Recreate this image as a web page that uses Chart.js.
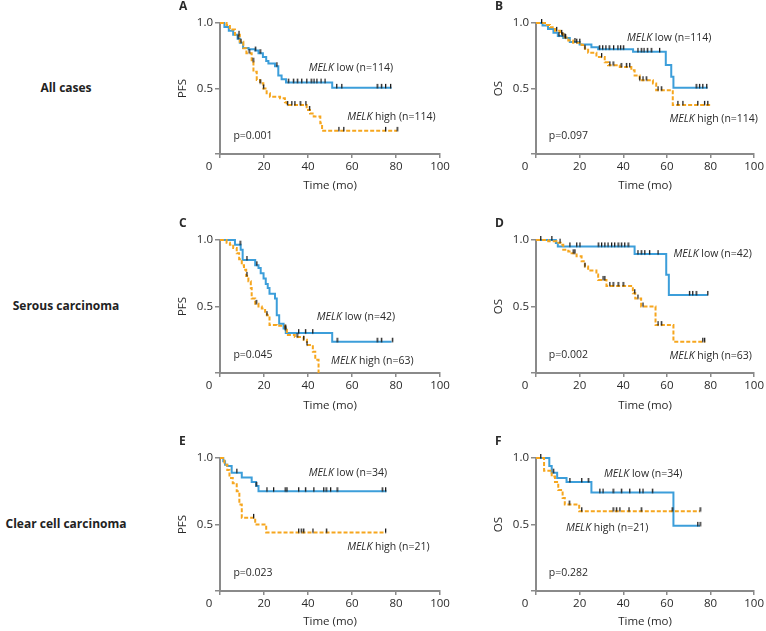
<!DOCTYPE html>
<html>
<head>
<meta charset="utf-8">
<script src="https://cdn.jsdelivr.net/npm/chart.js@4.4.1/dist/chart.umd.min.js"></script>
<style>
body { margin: 0; width: 766px; height: 631px; position: relative; background: #fff; overflow: hidden; }
canvas { position: absolute; }
.row { position: absolute; left: 0; width: 132px; text-align: center; font: bold 12px 'Open Sans', sans-serif; color: #222; line-height: 16px; }
</style>
</head>
<body>
<div class="row" style="top:80px">All cases</div>
<div class="row" style="top:298px">Serous carcinoma</div>
<div class="row" style="top:516px">Clear cell carcinoma</div>

<canvas id="pA" width="290" height="195" style="left:170px;top:0px"></canvas>
<canvas id="pB" width="280" height="195" style="left:486px;top:0px"></canvas>
<canvas id="pC" width="290" height="200" style="left:170px;top:215px"></canvas>
<canvas id="pD" width="280" height="200" style="left:486px;top:215px"></canvas>
<canvas id="pE" width="290" height="198" style="left:170px;top:433px"></canvas>
<canvas id="pF" width="280" height="198" style="left:486px;top:433px"></canvas>

<script>
// time axis ticks (months)
var xTicks = [0, 20, 40, 60, 80, 100]

// A - PFS, all cases
var aLowT = [0, 2, 4, 6, 8, 9, 10.5, 13, 16, 17.5, 19.5, 21, 22, 25, 26.5, 28, 30, 51, 78]
var aLowS = [1, 0.97, 0.94, 0.91, 0.88, 0.85, 0.81, 0.8, 0.79, 0.77, 0.74, 0.71, 0.69, 0.67, 0.6, 0.57, 0.545, 0.505, 0.505]
var aLowC = [8.2, 9.5, 16, 18.2, 25.8, 31, 33.3, 35.1, 37.1, 39.4, 41.4, 42.7, 44, 45.9, 47.7, 53, 55.3, 71.4, 73.3, 75.2, 77.5]
var aHighT = [0, 3, 4.5, 6.8, 9, 10.6, 12, 14.4, 15.2, 16.7, 18.2, 19.7, 21.2, 22.7, 27.3, 29.5, 30.3, 39.4, 40.9, 42.6, 45.6, 46.4, 80.5]
var aHighS = [1, 0.985, 0.95, 0.91, 0.857, 0.807, 0.77, 0.705, 0.628, 0.565, 0.54, 0.5, 0.463, 0.437, 0.425, 0.395, 0.374, 0.336, 0.31, 0.286, 0.235, 0.177, 0.177]
var aHighC = [8.6, 13.2, 15, 18.2, 19.7, 30.6, 32.6, 34, 36.4, 39, 40.6, 54, 56.2, 75.2, 80.5]

// B - OS, all cases
var bLowT = [0, 3, 5.5, 8, 10, 12.5, 15.5, 20, 25.4, 28.5, 44.5, 59.5, 62, 63, 78.7]
var bLowS = [1, 0.98, 0.955, 0.925, 0.9, 0.885, 0.855, 0.835, 0.815, 0.8, 0.78, 0.68, 0.59, 0.505, 0.505]
var bLowC = [10.5, 12, 13.5, 17.8, 29, 30.5, 32, 33.5, 35.5, 37.5, 38.7, 40, 46.7, 48.2, 49.5, 51, 52.8, 56.6, 73.4, 74.9, 76.4, 78.2]
var bHighT = [0, 4.6, 6.4, 8.7, 11, 12.5, 14.8, 17, 20.9, 22.4, 23.9, 27.7, 31.5, 33, 38.4, 43.7, 45.2, 47.5, 53.6, 55.1, 62.7, 80.5]
var bHighS = [1, 0.985, 0.967, 0.94, 0.917, 0.89, 0.866, 0.85, 0.833, 0.803, 0.773, 0.74, 0.7, 0.677, 0.665, 0.64, 0.6, 0.563, 0.538, 0.487, 0.375, 0.375]
var bHighC = [2.5, 9.4, 11.7, 13.2, 18.6, 20, 22.4, 30, 33.8, 35.3, 39, 41.4, 42.9, 47.5, 49, 50.5, 55.9, 57.4, 65, 67.3, 74.1, 77.2, 78.7]

// C - PFS, serous carcinoma
var cLowT = [0, 6.8, 9.4, 10.3, 16, 17.5, 18.5, 19.8, 20.8, 21.7, 22.5, 25, 25.8, 26.9, 28.9, 29.9, 51, 78]
var cLowS = [1, 0.965, 0.927, 0.85, 0.81, 0.79, 0.75, 0.71, 0.67, 0.64, 0.595, 0.56, 0.435, 0.37, 0.335, 0.3, 0.235, 0.235]
var cLowC = [9.1, 12.2, 16.7, 29.6, 35.7, 38.8, 42.1, 53.2, 71.4, 73.3, 78.3]
var cHighT = [0, 3, 4.5, 6, 7.6, 8.7, 9.9, 10.9, 11.9, 12.9, 14, 14.4, 16, 17.5, 19, 20.5, 21.3, 22.5, 25.8, 29.6, 30.4, 34, 38, 39.5, 42.2, 43.3, 44.8]
var cHighS = [1, 0.98, 0.965, 0.94, 0.9, 0.856, 0.81, 0.776, 0.73, 0.69, 0.64, 0.56, 0.52, 0.5, 0.485, 0.46, 0.435, 0.36, 0.355, 0.325, 0.285, 0.27, 0.25, 0.21, 0.16, 0.1, 0]
var cHighC = [12.2, 16.4, 21.3, 29.6, 35, 38, 39.5]

// D - OS, serous carcinoma
var dLowT = [0, 9.1, 10, 45.2, 59.7, 60.9, 78.7]
var dLowS = [1, 0.977, 0.952, 0.894, 0.738, 0.587, 0.587]
var dLowC = [2.1, 7.2, 15.5, 18.6, 20.1, 28.5, 30, 31.5, 33, 34.6, 36, 37.6, 39.1, 40.6, 42.2, 46.7, 48.2, 49.8, 52, 55.9, 70.3, 71.8, 73.4, 78.7]
var dHighT = [0, 5.6, 9.4, 11.3, 12.5, 14.8, 16.3, 18.6, 20.9, 22.4, 23.9, 27.7, 28.5, 32.3, 44.4, 45.5, 48.2, 54.8, 63, 77.6]
var dHighS = [1, 0.99, 0.98, 0.965, 0.927, 0.914, 0.9, 0.877, 0.84, 0.8, 0.77, 0.74, 0.7, 0.655, 0.6, 0.56, 0.5, 0.36, 0.235, 0.235]
var dHighC = [11, 17, 17.8, 22.4, 30.7, 31.5, 33.8, 35.3, 37.6, 39.9, 45.2, 46.7, 49, 55.9, 57.4, 76.4, 77.2]

// E - PFS, clear cell carcinoma
var eLowT = [0, 1.5, 2.3, 3.3, 5.3, 9.9, 14.4, 16.4, 17.5, 75.7]
var eLowS = [1, 0.975, 0.95, 0.94, 0.89, 0.854, 0.82, 0.79, 0.75, 0.75]
var eLowC = [7.6, 16.4, 21.3, 24.3, 29.6, 30.4, 35.7, 38.8, 42.6, 47.1, 48.2, 50.2, 53.2, 73.7, 75.2]
var eHighT = [0, 2, 3.3, 4.3, 5.8, 7.6, 8.8, 9.9, 16, 21, 75.2]
var eHighS = [1, 0.95, 0.91, 0.85, 0.81, 0.75, 0.65, 0.55, 0.5, 0.44, 0.44]
var eHighC = [15.2, 35.7, 36.9, 38, 42.2, 48.3, 75.2]

// F - OS, clear cell carcinoma
var fLowT = [0, 6.1, 7.2, 9.7, 14, 25.4, 63, 75.2]
var fLowS = [1, 0.94, 0.89, 0.85, 0.82, 0.74, 0.49, 0.49]
var fLowC = [2.1, 7.9, 15.5, 20.9, 23.9, 29.2, 30.7, 35.3, 39.1, 42.9, 47.5, 49, 53.3, 74.1, 75.2]
var fHighT = [0, 3.7, 7.2, 8.7, 10.2, 12.2, 13.2, 19.8, 75.2]
var fHighS = [1, 0.905, 0.86, 0.82, 0.76, 0.7, 0.65, 0.6, 0.6]
var fHighC = [15.2, 20.9, 35.3, 36.8, 38.4, 42.6, 48.2, 62.4, 75.2]

var blue = 'rgb(60,158,218)'
var orange = 'rgb(246,166,30)'
var font = "'Open Sans', sans-serif"

Chart.defaults.font.family = font
Chart.defaults.color = '#2a2a2a'

// censor mark: short black tick standing on top of the curve
var tick = document.createElement('canvas')
tick.width = 3
tick.height = 10
var tc = tick.getContext('2d')
tc.fillStyle = '#1a1a1a'
tc.fillRect(1, 1, 1.3, 4.5)

function steps(T, S) {
	return T.map(function (t, i) { return { x: t, y: S[i] } })
}

// censor ticks sit on the curve at the censoring time
function censors(T, S, C) {
	return C.map(function (c) {
		var s = S[0]
		for (var i = 0; i < T.length; i++) { if (T[i] <= c) s = S[i] }
		return { x: c, y: s }
	})
}

var notes = {
	id: 'notes',
	afterDraw: function (chart, args, opts) {
		var c = chart.ctx, a = chart.chartArea
		var xs = chart.scales.x, ys = chart.scales.y
		c.save()
		c.fillStyle = '#2a2a2a'
		c.textBaseline = 'middle'
		c.textAlign = 'left'
		c.font = 'bold 12px ' + font
		c.fillText(opts.letter, a.left - 41, a.top - 16)
		c.textAlign = 'center'
		c.font = '11.5px ' + font
		c.fillText('0', a.left - 11, a.bottom + 13)
		c.textAlign = 'left'
		opts.labels.forEach(function (l) {
			var x = xs.getPixelForValue(l.x), y = ys.getPixelForValue(l.y)
			if (l.gene) {
				c.font = 'italic 10.5px ' + font
				c.fillText(l.gene, x, y)
				x += c.measureText(l.gene + ' ').width
			}
			c.font = '10.5px ' + font
			c.fillText(l.text, x, y)
		})
		c.restore()
	}
}

function panel(id, p) {
	var ctx = document.getElementById(id).getContext('2d')
	new Chart(ctx, {
		type: 'line',
		data: {
			datasets: [{
				data: censors(p.lowT, p.lowS, p.lowC).concat(censors(p.highT, p.highS, p.highC)),
				showLine: false,
				pointStyle: tick,
				pointRadius: 3,
				clip: false
			}, {
				data: steps(p.highT, p.highS),
				borderColor: orange,
				borderWidth: 2,
				borderDash: [4, 2],
				stepped: 'before',
				pointRadius: 0,
				clip: false
			}, {
				data: steps(p.lowT, p.lowS),
				borderColor: blue,
				borderWidth: 2,
				stepped: 'before',
				pointRadius: 0,
				clip: false
			}]
		},
		options: {
			responsive: false,
			animation: false,
			events: [],
			layout: { padding: { top: p.top, right: p.right, left: 0, bottom: 0 } },
			plugins: {
				legend: { display: false },
				tooltip: { enabled: false },
				notes: { letter: p.letter, labels: p.labels }
			},
			scales: {
				x: {
					type: 'linear',
					min: 0,
					max: 100,
					afterFit: function (s) { s.height = p.xh },
					afterBuildTicks: function (s) { s.ticks = xTicks.map(function (v) { return { value: v } }) },
					ticks: {
						padding: 2,
						font: { size: 11.5 },
						callback: function (v) { return v === 0 ? '' : v }
					},
					grid: { drawOnChartArea: false, tickLength: 4, color: '#8a8a8a', lineWidth: 1.5 },
					border: { color: '#8a8a8a', width: 2 },
					title: { display: true, text: 'Time (mo)', font: { size: 11.5 }, padding: { top: 0, bottom: 2 } }
				},
				y: {
					min: 0,
					max: 1,
					afterFit: function (s) { s.width = 50 },
					ticks: {
						stepSize: 0.5,
						padding: 2,
						font: { size: 11.5 },
						callback: function (v) { return v === 0 ? '' : v.toFixed(1) }
					},
					grid: { drawOnChartArea: false, tickLength: 5, color: '#8a8a8a', lineWidth: 1.5 },
					border: { color: '#8a8a8a', width: 2 },
					title: { display: true, text: p.ylab, font: { size: 11.5 }, padding: { top: 6, bottom: 0 } }
				}
			}
		},
		plugins: [notes]
	})
}

panel('pA', {
	letter: 'A', ylab: 'PFS', top: 23, right: 20, xh: 41,
	lowT: aLowT, lowS: aLowS, lowC: aLowC, highT: aHighT, highS: aHighS, highC: aHighC,
	labels: [
		{ x: 40.3, y: 0.653, gene: 'MELK', text: 'low (n=114)' },
		{ x: 57.8, y: 0.28, gene: 'MELK', text: 'high (n=114)' },
		{ x: 6.1, y: 0.14, text: 'p=0.001' }
	]
})
panel('pB', {
	letter: 'B', ylab: 'OS', top: 23, right: 11, xh: 41,
	lowT: bLowT, lowS: bLowS, lowC: bLowC, highT: bHighT, highS: bHighS, highC: bHighC,
	labels: [
		{ x: 41.7, y: 0.886, gene: 'MELK', text: 'low (n=114)' },
		{ x: 61.2, y: 0.265, gene: 'MELK', text: 'high (n=114)' },
		{ x: 5.9, y: 0.14, text: 'p=0.097' }
	]
})
panel('pC', {
	letter: 'C', ylab: 'PFS', top: 25, right: 20, xh: 42,
	lowT: cLowT, lowS: cLowS, lowC: cLowC, highT: cHighT, highS: cHighS, highC: cHighC,
	labels: [
		{ x: 44, y: 0.423, gene: 'MELK', text: 'low (n=42)' },
		{ x: 50.5, y: 0.09, gene: 'MELK', text: 'high (n=63)' },
		{ x: 6.1, y: 0.133, text: 'p=0.045' }
	]
})
panel('pD', {
	letter: 'D', ylab: 'OS', top: 25, right: 11, xh: 42,
	lowT: dLowT, lowS: dLowS, lowC: dLowC, highT: dHighT, highS: dHighS, highC: dHighC,
	labels: [
		{ x: 63, y: 0.897, gene: 'MELK', text: 'low (n=42)' },
		{ x: 61.2, y: 0.126, gene: 'MELK', text: 'high (n=63)' },
		{ x: 5.9, y: 0.133, text: 'p=0.002' }
	]
})
panel('pE', {
	letter: 'E', ylab: 'PFS', top: 25, right: 20, xh: 40,
	lowT: eLowT, lowS: eLowS, lowC: eLowC, highT: eHighT, highS: eHighS, highC: eHighC,
	labels: [
		{ x: 40.3, y: 0.887, gene: 'MELK', text: 'low (n=34)' },
		{ x: 57.8, y: 0.334, gene: 'MELK', text: 'high (n=21)' },
		{ x: 6.1, y: 0.138, text: 'p=0.023' }
	]
})
panel('pF', {
	letter: 'F', ylab: 'OS', top: 25, right: 11, xh: 40,
	lowT: fLowT, lowS: fLowS, lowC: fLowC, highT: fHighT, highS: fHighS, highC: fHighC,
	labels: [
		{ x: 31.2, y: 0.88, gene: 'MELK', text: 'low (n=34)' },
		{ x: 13.7, y: 0.477, gene: 'MELK', text: 'high (n=21)' },
		{ x: 5.9, y: 0.138, text: 'p=0.282' }
	]
})
</script>
</body>
</html>
